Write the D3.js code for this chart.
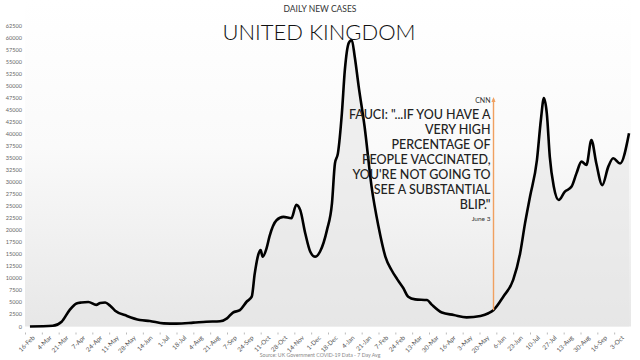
<!DOCTYPE html>
<html>
<head>
<meta charset="utf-8">
<script src="https://cdn.jsdelivr.net/npm/d3@7"></script>
<style>
  body { margin: 0; background: #fff; }
  svg { display: block; font-family: Lato, "Open Sans", sans-serif; }
</style>
</head>
<body>
<script>
var w = 640,
    h = 360;

// 7-day average of daily new cases
var dates = [
  "2020-02-21", "2020-03-15", "2020-03-24", "2020-04-01", "2020-04-08", "2020-04-13",
  "2020-04-20", "2020-04-28", "2020-05-02", "2020-05-07", "2020-05-12", "2020-05-17",
  "2020-05-29", "2020-06-11", "2020-06-21", "2020-07-05", "2020-07-18", "2020-08-04",
  "2020-08-17", "2020-08-31", "2020-09-07", "2020-09-13", "2020-09-20", "2020-09-27",
  "2020-10-02", "2020-10-05", "2020-10-09", "2020-10-11", "2020-10-13", "2020-10-17",
  "2020-10-20", "2020-10-27", "2020-11-03", "2020-11-11", "2020-11-16", "2020-11-20",
  "2020-11-25", "2020-11-30", "2020-12-05", "2020-12-10", "2020-12-17", "2020-12-22",
  "2020-12-25", "2020-12-28", "2021-01-01", "2021-01-04", "2021-01-08", "2021-01-11",
  "2021-01-14", "2021-01-18", "2021-01-24", "2021-01-31", "2021-02-07", "2021-02-14",
  "2021-02-20", "2021-02-26", "2021-03-04", "2021-03-09", "2021-03-16", "2021-03-28",
  "2021-04-02", "2021-04-12", "2021-04-24", "2021-05-07", "2021-05-21", "2021-05-29",
  "2021-06-03", "2021-06-13", "2021-06-23", "2021-06-30", "2021-07-05", "2021-07-10",
  "2021-07-17", "2021-07-21", "2021-07-24", "2021-07-27", "2021-07-30", "2021-08-03",
  "2021-08-08", "2021-08-14", "2021-08-21", "2021-08-26", "2021-08-31", "2021-09-05",
  "2021-09-10", "2021-09-15", "2021-09-21", "2021-09-27", "2021-10-02", "2021-10-09",
  "2021-10-18"
];
var cases = [
  0, 150, 1000, 3400, 4800, 5000,
  5100, 4500, 4900, 5000, 4300, 3300,
  2200, 1350, 1150, 650, 600, 800,
  1000, 1100, 1700, 2900, 3400, 5200,
  6200, 11000, 15200, 15900, 14500, 16300,
  18800, 22100, 22800, 22500, 25300, 24200,
  19400, 15600, 14500, 15600, 20100, 25600,
  33900, 36000, 44300, 53300, 59000, 59600,
  56100, 49900, 41500, 29100, 20800, 14500,
  11800, 9800, 8000, 6200, 5650, 5500,
  4500, 2900, 2400, 1900, 2200, 2750,
  3400, 6200, 9700, 15200, 21500, 27000,
  34600, 43000, 47500, 44300, 35300, 29100,
  26300, 28000, 29100, 31900, 34300, 33600,
  38800, 33900, 29400, 33200, 35000, 33900,
  40200
];

var yTicks = d3.range(0, 62501, 2500);
var xTickLabels = [
  "16-Feb", "4-Mar", "21-Mar", "7-Apr", "24-Apr", "11-May", "28-May", "14-Jun",
  "1-Jul", "18-Jul", "4-Aug", "21-Aug", "7-Sep", "24-Sep", "11-Oct", "28-Oct",
  "14-Nov", "1-Dec", "18-Dec", "4-Jan", "21-Jan", "7-Feb", "24-Feb", "13-Mar",
  "30-Mar", "16-Apr", "3-May", "20-May", "6-Jun", "23-Jun", "10-Jul", "27-Jul",
  "13-Aug", "30-Aug", "16-Sep", "3-Oct"
];
var quoteLines = [
  "FAUCI: \"...IF YOU HAVE A",
  "VERY HIGH",
  "PERCENTAGE OF",
  "PEOPLE VACCINATED,",
  "YOU'RE NOT GOING TO",
  "SEE A SUBSTANTIAL",
  "BLIP.\""
];
var quoteDate = "2021-06-03";

var parse = d3.timeParse("%Y-%m-%d");
var data = dates.map(function(d, i) { return { date: parse(d), value: cases[i] }; });

var start = parse("2020-02-16");
// tick dates step every 17 days from the start
var tickDates = xTickLabels.map(function(l, i) { return d3.timeDay.offset(start, i * 17); });

var x = d3.scaleTime()
    .domain([start, d3.timeDay.offset(start, 612)])
    .range([25, 631]);
var y = d3.scaleLinear()
    .domain([0, 62500])
    .range([326.5, 26]);

var svg = d3.select("body").append("svg")
    .attr("width", w)
    .attr("height", h);

var defs = svg.append("defs");
var bg = defs.append("linearGradient")
    .attr("id", "bg")
    .attr("x1", "0%").attr("y1", "0%")
    .attr("x2", "0%").attr("y2", "100%");
bg.append("stop").attr("offset", "0%").attr("stop-color", "#ffffff");
bg.append("stop").attr("offset", "45%").attr("stop-color", "#fafafa");
bg.append("stop").attr("offset", "100%").attr("stop-color", "#e7e7e7");

svg.append("rect")
    .attr("x", x.range()[0]).attr("y", 0)
    .attr("width", x.range()[1] - x.range()[0])
    .attr("height", y(0))
    .style("fill", "url(#bg)");

// light fill under the curve
var area = d3.area()
    .x(function(d) { return x(d.date); })
    .y0(y(0))
    .y1(function(d) { return y(d.value); })
    .curve(d3.curveMonotoneX);

svg.append("path")
    .datum(data)
    .attr("d", area)
    .style("fill", "#e6e6e6")
    .style("opacity", 0.6);

// y axis labels
svg.append("g").selectAll("text")
    .data(yTicks)
    .enter().append("text")
    .attr("x", 22)
    .attr("y", function(d) { return y(d) + 2; })
    .attr("text-anchor", "end")
    .style("font-size", "5.6px")
    .style("fill", "#666")
    .text(function(d) { return d; });

// x axis
var xAxis = d3.axisBottom(x)
    .tickValues(tickDates)
    .tickSize(2)
    .tickFormat(function(d, i) { return xTickLabels[i]; });

var gx = svg.append("g")
    .attr("transform", "translate(0," + (y(0) + 6) + ")")
    .call(xAxis);
gx.select(".domain").remove();
gx.selectAll(".tick line").attr("stroke", "#bbb");
gx.selectAll(".tick text")
    .attr("text-anchor", "end")
    .attr("transform", "translate(3,-1) rotate(-45)")
    .style("font-size", "6.3px")
    .style("font-family", "Lato, sans-serif")
    .style("fill", "#555");

// main line
var line = d3.line()
    .x(function(d) { return x(d.date); })
    .y(function(d) { return y(d.value); })
    .curve(d3.curveMonotoneX);

svg.append("path")
    .datum(data)
    .attr("d", line)
    .style("fill", "none")
    .style("stroke", "#000")
    .style("stroke-width", 2.6)
    .style("stroke-linejoin", "round");

// annotation
var qd = parse(quoteDate);
var qv = cases[dates.indexOf(quoteDate)];
var qx = Math.round(x(qd)) + 0.5;

svg.append("line")
    .attr("x1", qx).attr("x2", qx)
    .attr("y1", y(qv)).attr("y2", 99)
    .style("stroke", "#f0a060")
    .style("stroke-width", 1.4);
svg.append("path")
    .attr("d", "M" + (qx - 2) + ",102L" + qx + ",97L" + (qx + 2) + ",102Z")
    .style("fill", "#f0a060");

svg.append("text")
    .attr("x", qx - 3).attr("y", 103)
    .attr("text-anchor", "end")
    .style("font-size", "7px")
    .style("fill", "#333")
    .text("CNN");

svg.append("g").selectAll("text")
    .data(quoteLines)
    .enter().append("text")
    .attr("x", qx - 3)
    .attr("y", function(d, i) { return 119 + i * 15; })
    .attr("text-anchor", "end")
    .style("font-size", "12.5px")
    .style("font-weight", 500)
    .style("fill", "#222")
    .text(function(d) { return d; });

svg.append("text")
    .attr("x", qx - 3).attr("y", 221)
    .attr("text-anchor", "end")
    .style("font-size", "6.5px")
    .style("fill", "#333")
    .text("June 3");

// titles
svg.append("text")
    .attr("x", 320).attr("y", 12)
    .attr("text-anchor", "middle")
    .style("font-size", "8.5px")
    .style("fill", "#333")
    .text("DAILY NEW CASES");

svg.append("text")
    .attr("x", 319).attr("y", 40)
    .attr("text-anchor", "middle")
    .style("font-size", "22px")
    .style("font-weight", 300)
    .style("fill", "#111")
    .text("UNITED KINGDOM");

svg.append("text")
    .attr("x", 320).attr("y", 357)
    .attr("text-anchor", "middle")
    .style("font-size", "5.2px")
    .style("fill", "#888")
    .text("Source: UK Government COVID-19 Data - 7 Day Avg");
</script>
</body>
</html>
